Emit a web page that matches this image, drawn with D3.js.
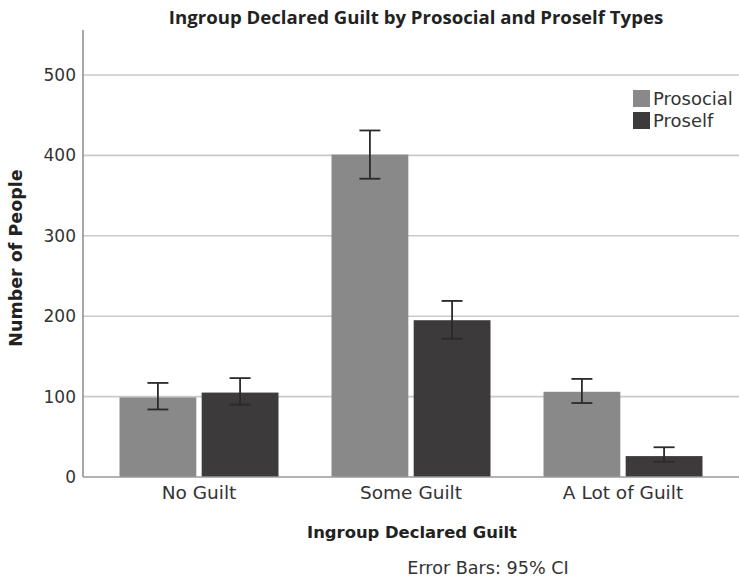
<!DOCTYPE html>
<html lang="en">
<head>
  <meta charset="UTF-8">
  <script src="https://cdnjs.cloudflare.com/ajax/libs/d3/7.8.5/d3.min.js"></script>
  <style>
    body { margin: 0; background: #fff; font-family: 'DejaVu Sans', sans-serif; }
    .tick text { font-family: 'DejaVu Sans', sans-serif; fill: #333; }
    .x-ticks .tick text { font-size: 18.5px; }
    .y-ticks .tick text { font-size: 17px; }
  </style>
  <title>Ingroup Declared Guilt</title>
</head>
<body>
  <div id="chart"></div>
<script>
  // data
  const categories = ["No Guilt", "Some Guilt", "A Lot of Guilt"];
  const seriesNames = ["Prosocial", "Proself"];
  const prosocial = [99, 401, 106];
  const proself = [105, 195, 26];
  const prosocialLow = [84, 371, 92];
  const prosocialHigh = [117, 431, 122];
  const proselfLow = [90, 172, 19];
  const proselfHigh = [123, 219, 37];
  const yTicks = [0, 100, 200, 300, 400, 500];

  const colors = { Prosocial: "#898989", Proself: "#3c3a3b" };

  const W = 739, H = 580;
  const plotLeft = 83, plotRight = 739, plotTop = 30, plotBottom = 477;

  const svg = d3.select("#chart").append("svg")
    .attr("width", W).attr("height", H);

  const y = d3.scaleLinear().domain([0, 500]).range([plotBottom, 75]);

  const x0 = d3.scaleBand().domain(categories)
    .range([93, 729]).paddingInner(0.25).paddingOuter(0.125);
  const x1 = d3.scaleBand().domain(seriesNames)
    .range([0, x0.bandwidth()]).paddingInner(0.065);

  // gridlines
  svg.append("g").selectAll("line")
    .data(yTicks.filter(d => d > 0))
    .join("line")
    .attr("x1", plotLeft).attr("x2", plotRight)
    .attr("y1", d => y(d)).attr("y2", d => y(d))
    .attr("stroke", "#c9c9c9").attr("stroke-width", 1.6);

  // bars
  const rows = categories.map((c, i) => [
    { cat: c, s: "Prosocial", v: prosocial[i], lo: prosocialLow[i], hi: prosocialHigh[i] },
    { cat: c, s: "Proself", v: proself[i], lo: proselfLow[i], hi: proselfHigh[i] }
  ]).flat();

  svg.append("g").selectAll("rect")
    .data(rows)
    .join("rect")
    .attr("x", d => x0(d.cat) + x1(d.s))
    .attr("width", x1.bandwidth())
    .attr("y", d => y(d.v))
    .attr("height", d => y(0) - y(d.v))
    .attr("fill", d => colors[d.s]);

  // error bars
  const eb = svg.append("g").attr("stroke", "#2a2a2a").attr("stroke-width", 1.8);
  rows.forEach(d => {
    const cx = x0(d.cat) + x1(d.s) + x1.bandwidth() / 2;
    eb.append("line").attr("x1", cx).attr("x2", cx).attr("y1", y(d.hi)).attr("y2", y(d.lo));
    eb.append("line").attr("x1", cx - 10.5).attr("x2", cx + 10.5).attr("y1", y(d.hi)).attr("y2", y(d.hi));
    eb.append("line").attr("x1", cx - 10.5).attr("x2", cx + 10.5).attr("y1", y(d.lo)).attr("y2", y(d.lo));
  });

  // axes
  const yAxis = svg.append("g")
    .attr("class", "y-ticks")
    .attr("transform", "translate(" + plotLeft + ",0)")
    .call(d3.axisLeft(y).tickValues(yTicks).tickSize(0).tickPadding(7));
  yAxis.select(".domain").remove();

  svg.append("line")
    .attr("x1", plotLeft).attr("x2", plotLeft).attr("y1", plotTop).attr("y2", plotBottom)
    .attr("stroke", "#8a8a8a").attr("stroke-width", 1.5);
  svg.append("line")
    .attr("x1", plotLeft).attr("x2", plotRight).attr("y1", plotBottom).attr("y2", plotBottom)
    .attr("stroke", "#9a9a9a").attr("stroke-width", 1.6);

  const xAxis = svg.append("g")
    .attr("class", "x-ticks")
    .attr("transform", "translate(0," + plotBottom + ")")
    .call(d3.axisBottom(x0).tickSize(0).tickPadding(9));
  xAxis.select(".domain").remove();

  // titles
  svg.append("text")
    .attr("x", 416).attr("y", 23.5)
    .attr("text-anchor", "middle")
    .attr("font-family", "'Open Sans', sans-serif")
    .attr("font-size", 18.6).attr("font-weight", "bold").attr("fill", "#222")
    .text("Ingroup Declared Guilt by Prosocial and Proself Types");

  svg.append("text")
    .attr("x", 412).attr("y", 538)
    .attr("text-anchor", "middle")
    .attr("font-size", 16.4).attr("font-weight", "bold").attr("fill", "#222")
    .text("Ingroup Declared Guilt");

  svg.append("text")
    .attr("transform", "translate(22,258) rotate(-90)")
    .attr("text-anchor", "middle")
    .attr("font-size", 17.5).attr("font-weight", "bold").attr("fill", "#222")
    .text("Number of People");

  svg.append("text")
    .attr("x", 488).attr("y", 574)
    .attr("text-anchor", "middle")
    .attr("font-size", 17.6).attr("fill", "#333")
    .text("Error Bars: 95% CI");

  // legend
  const lg = svg.append("g").attr("transform", "translate(633,90)");
  seriesNames.forEach((s, i) => {
    lg.append("rect").attr("x", 0).attr("y", i * 22).attr("width", 17).attr("height", 17)
      .attr("fill", colors[s]);
    lg.append("text").attr("x", 20).attr("y", i * 22 + 15)
      .attr("font-size", 18).attr("fill", "#333").text(s);
  });
</script>
</body>
</html>
